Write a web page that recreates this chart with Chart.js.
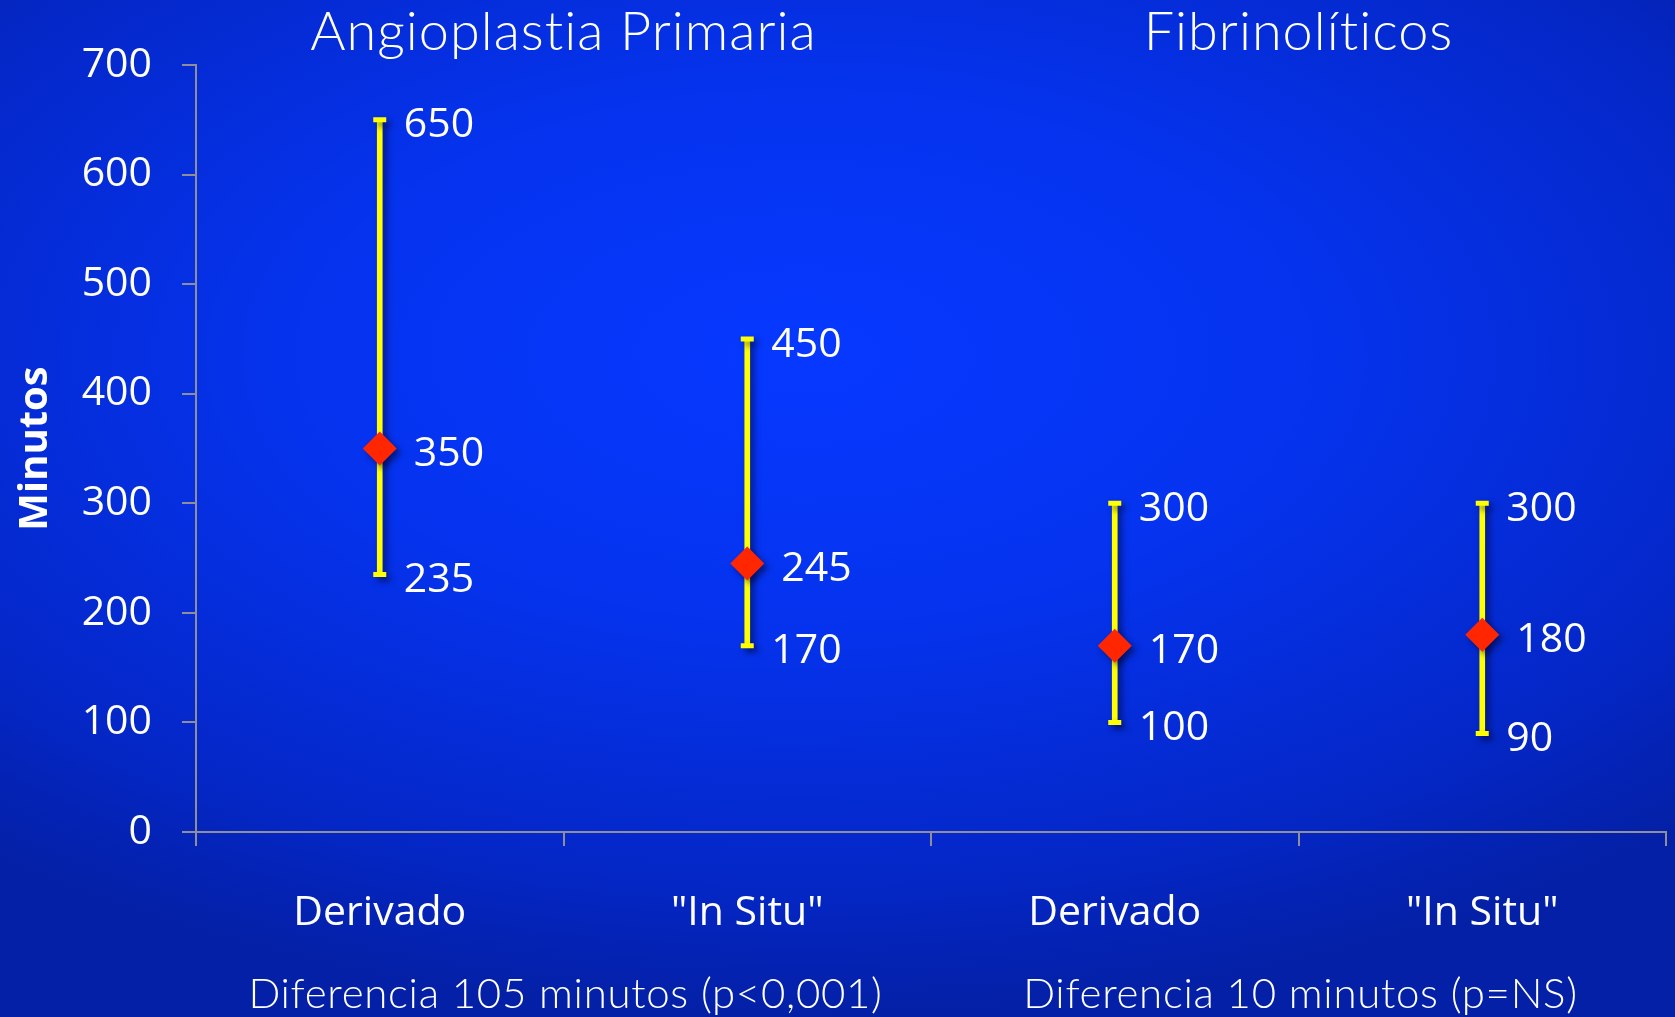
<html>
<head>
<meta charset="UTF-8" />
<title>Minutos</title>
<style type="text/css">
    html, body {
        margin: 0;
        padding: 0;
        width: 1675px;
        height: 1017px;
        overflow: hidden;
        background: radial-gradient(ellipse 75% 65% at 48% 35%, #0638ff 0%, #0533ee 40%, #0427c8 78%, #0420a6 100%);
    }
    #box {
        position: relative;
        width: 1675px;
        height: 1017px;
    }
</style>
</head>
<body>
<div id="box">
    <canvas id="minChart" width="1675" height="1017" aria-label="minutos chart" role="img"></canvas>
</div>
<script src="https://cdn.jsdelivr.net/npm/chart.js"></script>
<script>
    // data
    const categories = ['Derivado', '"In Situ"', 'Derivado', '"In Situ"'];
    const medians = [350, 245, 170, 180];
    const lows = [235, 170, 100, 90];
    const highs = [650, 450, 300, 300];
    const yTicks = [0, 100, 200, 300, 400, 500, 600, 700];
    const groupTitles = ['Angioplastia Primaria', 'Fibrinolíticos'];
    const groupNotes = ['Diferencia 105 minutos (p<0,001)', 'Diferencia 10 minutos (p=NS)'];

    const ranges = lows.map((lo, i) => [lo, highs[i]]);
    const yellow = '#ffff00';
    const red = '#ff2600';
    const axisGrey = '#8f8f9a';
    const dataFont = '"Open Sans", sans-serif';
    const titleFont = 'Lato, sans-serif';

    // soft drop shadow under the bars and markers
    const shadowPlugin = {
        id: 'shadow',
        beforeDatasetsDraw(chart) {
            const c = chart.ctx;
            c.save();
            c.shadowColor = 'rgba(0, 0, 40, 0.55)';
            c.shadowBlur = 6;
            c.shadowOffsetX = 4;
            c.shadowOffsetY = 4;
        },
        afterDatasetsDraw(chart) {
            chart.ctx.restore();
        }
    };

    // value labels, group titles and notes
    const textPlugin = {
        id: 'texts',
        afterDraw(chart) {
            const c = chart.ctx;
            const xs = chart.scales.x;
            const ys = chart.scales.y;
            const area = chart.chartArea;
            c.save();
            c.fillStyle = '#ffffff';
            c.textBaseline = 'middle';
            c.textAlign = 'left';
            c.font = '41px ' + dataFont;
            for (let i = 0; i < categories.length; i++) {
                const x = xs.getPixelForValue(i);
                c.fillText(String(highs[i]), x + 24, ys.getPixelForValue(highs[i]) + 6);
                c.fillText(String(medians[i]), x + 34, ys.getPixelForValue(medians[i]) + 6);
                c.fillText(String(lows[i]), x + 24, ys.getPixelForValue(lows[i]) + 6);
            }
            c.textAlign = 'center';
            for (let g = 0; g < groupTitles.length; g++) {
                const gx = (xs.getPixelForValue(g * 2) + xs.getPixelForValue(g * 2 + 1)) / 2;
                c.font = '300 54px ' + titleFont;
                c.letterSpacing = '1px';
                c.fillText(groupTitles[g], gx, area.top - 32);
                c.font = '300 42px ' + titleFont;
                c.letterSpacing = '0.7px';
                c.fillText(groupNotes[g], gx + 2, area.bottom + 162);
            }
            c.restore();
        }
    };

    const ctx = document.getElementById('minChart');

    new Chart(ctx, {
        type: 'bar',
        data: {
            labels: categories,
            datasets: [
                {
                    type: 'line',
                    label: 'mediana',
                    data: medians,
                    showLine: false,
                    pointStyle: 'rectRot',
                    pointRadius: 17,
                    pointBackgroundColor: red,
                    pointBorderColor: red,
                    pointBorderWidth: 0,
                    order: 0
                },
                {
                    type: 'line',
                    label: 'max',
                    data: highs,
                    showLine: false,
                    pointStyle: 'line',
                    pointRadius: 6.5,
                    pointBorderColor: yellow,
                    pointBorderWidth: 5,
                    order: 1
                },
                {
                    type: 'line',
                    label: 'min',
                    data: lows,
                    showLine: false,
                    pointStyle: 'line',
                    pointRadius: 6.5,
                    pointBorderColor: yellow,
                    pointBorderWidth: 5,
                    order: 1
                },
                {
                    label: 'rango',
                    data: ranges,
                    backgroundColor: yellow,
                    borderWidth: 0,
                    barThickness: 5,
                    order: 2
                }
            ]
        },
        options: {
            responsive: false,
            animation: false,
            events: [],
            layout: {
                autoPadding: false,
                padding: { top: 65, right: 9, bottom: 0, left: 0 }
            },
            plugins: {
                legend: { display: false },
                tooltip: { enabled: false }
            },
            scales: {
                x: {
                    offset: true,
                    grid: {
                        offset: true,
                        drawOnChartArea: false,
                        drawTicks: true,
                        tickLength: 14,
                        color: axisGrey,
                        lineWidth: 2
                    },
                    border: { color: axisGrey, width: 2 },
                    ticks: {
                        color: '#ffffff',
                        font: { family: dataFont, size: 41 },
                        padding: 43,
                        maxRotation: 0
                    },
                    afterFit(scale) {
                        scale.height = 185;
                        scale.paddingLeft = 0;
                        scale.paddingRight = 0;
                    }
                },
                y: {
                    min: 0,
                    max: 700,
                    afterBuildTicks(scale) {
                        scale.ticks = yTicks.map(v => ({ value: v }));
                    },
                    grid: {
                        drawOnChartArea: false,
                        drawTicks: true,
                        tickLength: 14,
                        color: axisGrey,
                        lineWidth: 2
                    },
                    border: { color: axisGrey, width: 2 },
                    ticks: {
                        color: '#ffffff',
                        font: { family: dataFont, size: 41 },
                        padding: 30
                    },
                    title: {
                        display: true,
                        text: 'Minutos',
                        color: '#ffffff',
                        font: { family: dataFont, size: 40, weight: 'bold' },
                        padding: { top: 12, bottom: 0 }
                    },
                    afterFit(scale) { scale.width = 196; }
                }
            }
        },
        plugins: [shadowPlugin, textPlugin]
    });
</script>
</body>
</html>
